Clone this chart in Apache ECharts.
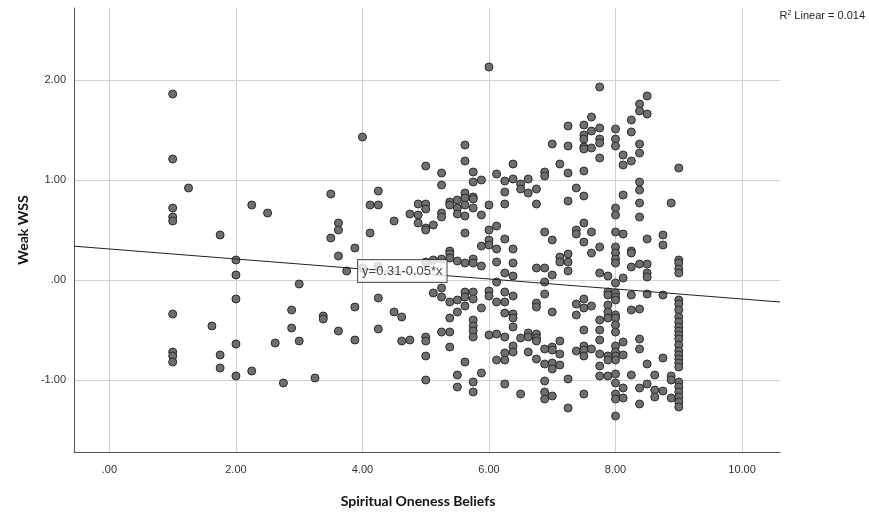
<!doctype html>
<html lang="en">
<head>
    <meta charset="UTF-8">
    <title>Weak WSS vs Spiritual Oneness Beliefs</title>
    <script src="https://cdn.jsdelivr.net/npm/echarts@6/dist/echarts.min.js"></script>
    <style>
        html, body { margin: 0; padding: 0; background: #fff; }
        #scatter_echart { width: 869px; height: 519px; }
    </style>
</head>
<body>

<div id="scatter_echart"></div>

<script type="text/javascript">
/* 데이터 */
const xTicks = [0, 2, 4, 6, 8, 10];
const yTicks = [-1, 0, 1, 2];

// Spiritual Oneness Beliefs (x)
const oneness = [
    1, 1, 1.25, 1, 1, 1, 2.25, 2.5, 1.75, 2, 2, 2, 1, 1.62, 2, 1, 1, 1, 1.75, 1.75, 2, 2.25, 2.75, 2.88, 2.88, 2.62, 3, 3,
    3.5, 3.62, 3.62, 3.5, 3.62, 3.38, 3.38, 3.62, 3.25,
    4, 5, 5.62, 5.62, 5.25, 5.25, 4.25, 4.12, 4.25, 3.88, 4.12, 4.5, 4.75, 4.88, 5, 5, 4.88, 4.88, 5, 5, 5.12, 5.25, 5.25, 5.38, 5.38, 5.5, 5.5, 5.5, 5.62, 5.62, 5.62, 5.62, 5.62, 5.38,
    3.75, 4, 4.25, 5, 5.12, 5.25, 5.38, 5.38, 5.5, 5.62, 5.25, 5.12, 5.25, 5.38, 5.5, 5.62, 5.62, 5.62, 5.5, 5.38, 4.25, 3.88, 4.5, 4.62, 3.88, 4.25, 4.62, 4.75, 5, 5, 5.25, 5.38, 5.38, 5, 5.62, 5.5, 5, 5.5,
    6, 7.75, 7.62, 7.5, 7.75, 7.62, 7.5, 7.5, 7.75, 7.75, 7.5, 7.5, 7.62, 7.75, 7.25, 7.25, 7, 7.12, 7.25, 7.5, 7.38, 7.5, 7.25, 6.88, 6.88, 6.62, 6.75, 6.62, 6.75, 6.5, 6.5, 6.38, 6.38, 6.25, 6.25, 6.25, 6.12, 6.12, 6, 6, 6, 6, 5.88, 5.88, 5.75, 5.75, 5.88, 5.75, 5.75, 5.75, 6.25, 6.38, 6.12, 6.88, 7, 7.38, 7.38, 7.5, 7.5, 7.62,
    5.75, 5.75, 5.88, 6.12, 6.38, 6.75, 6.88, 7.12, 7.12, 7.25, 7.25, 7.25, 7, 7.62, 7.75, 6.25, 6.38, 6.12, 6.88, 6.88, 5.75, 5.75, 6, 6, 6.25, 6.12, 6.25, 6.38, 6.25, 6.38, 6.38, 5.88, 6.75, 6.75, 7, 7.38, 7.38, 7.5, 7.5, 7.62, 7.75,
    5.75, 5.75, 5.75, 5.75, 6, 6.12, 6.25, 6.38, 6.5, 6.62, 6.62, 6.75, 6.75, 6.75, 6.38, 6.38, 6.25, 6.12, 6.25, 6.62, 6.88, 7, 7, 7.12, 7.12, 6.75, 6.88, 7, 7, 7.12, 7.5, 7.38, 7.5, 7.5, 7.5, 7.62, 7.75, 7.75, 7.75, 5.88, 5.75, 5.75, 6.25, 6.5, 6.88, 6.88, 6.88, 7, 7.25, 7.25, 7.5,
    8.5, 8.38, 8.38, 8.5, 8.25, 8.25, 8, 8, 8, 8.38, 8.38, 8.12, 8.25, 8.12, 9, 8.38, 8.38, 8.12, 8.38, 8.88, 8, 8, 8.38, 8, 8.12, 8.5, 8.75, 8.75, 8, 8.25, 7.75,
    8, 8, 8, 8.25, 8.25, 8.38, 8.5, 8.5, 8.5, 8.12, 7.88, 8, 9, 9, 9, 9, 7.88, 7.88, 8, 8, 8, 8.25, 8.5, 8.75, 8.25, 8.38, 7.88, 7.88, 7.88, 8, 8, 8, 8, 7.75, 7.75, 8.12, 8.38, 8.38, 8, 8, 8, 8, 7.88, 7.88, 8.12, 8.75, 8.5,
    9, 9, 9, 9, 9, 9, 9, 9, 9, 9, 9, 9, 9, 9, 9, 7.88, 8, 8.25, 8.62, 8.88, 8.88, 9, 9, 9, 9, 9, 9, 8, 8.12, 8, 8.12, 8, 8.38, 8.5, 8.62, 8.75, 8.62, 8.88, 8.38, 8
];

// Weak WSS (y)
const weakWss = [
    1.86, 1.21, 0.92, 0.72, 0.63, 0.59, 0.75, 0.67, 0.45, 0.20, 0.05, -0.19, -0.34, -0.46, -0.64, -0.72, -0.76, -0.82, -0.75, -0.88, -0.96, -0.91, -1.03, -0.30, -0.48, -0.63, -0.04, -0.61,
    0.86, 0.57, 0.50, 0.42, 0.24, -0.36, -0.39, -0.51, -0.98,
    1.43, 1.14, 1.35, 1.19, 1.07, 0.95, 0.89, 0.75, 0.75, 0.32, 0.47, 0.59, 0.66, 0.76, 0.76, 0.71, 0.65, 0.57, 0.52, 0.50, 0.55, 0.67, 0.63, 0.78, 0.75, 0.80, 0.72, 0.66, 0.87, 0.82, 0.75, 0.64, 0.47, 0.29,
    0.09, 0.12, 0.14, 0.18, 0.20, 0.21, 0.26, 0.22, 0.19, 0.17, -0.08, -0.13, -0.17, -0.22, -0.20, -0.12, -0.17, -0.26, -0.32, -0.38, -0.18, -0.27, -0.32, -0.37, -0.60, -0.49, -0.61, -0.60, -0.57, -0.61, -0.52, -0.52, -0.67, -0.76, -0.82, -0.95, -1.00, -1.07,
    2.13, 1.93, 1.63, 1.55, 1.52, 1.49, 1.45, 1.41, 1.41, 1.37, 1.33, 1.31, 1.32, 1.22, 1.54, 1.34, 1.36, 1.16, 1.07, 1.09, 0.92, 0.84, 0.79, 1.08, 1.04, 1.01, 0.91, 0.87, 0.76, 0.96, 0.91, 1.16, 1.01, 0.99, 0.88, 0.76, 1.06, 0.54, 0.75, 0.50, 0.40, 0.35, 0.34, 0.65, 1.08, 0.98, 1.00, 0.83, 0.81, 0.72, 0.41, 0.31, 0.31, 0.48, 0.40, 0.50, 0.46, 0.38, 0.57, 0.48,
    0.21, 0.17, 0.14, 0.18, 0.17, 0.12, 0.12, 0.23, 0.18, 0.26, 0.18, 0.09, 0.05, 0.27, 0.07, 0.07, 0.04, -0.02, -0.02, -0.14, -0.12, -0.19, -0.11, -0.16, -0.12, -0.22, -0.22, -0.16, -0.33, -0.34, -0.38, -0.28, -0.23, -0.27, -0.32, -0.24, -0.35, -0.19, -0.28, -0.26, -0.40,
    -0.40, -0.46, -0.51, -0.57, -0.55, -0.54, -0.57, -0.47, -0.58, -0.53, -0.57, -0.54, -0.58, -0.61, -0.66, -0.72, -0.73, -0.80, -0.80, -0.72, -0.69, -0.67, -0.70, -0.61, -0.74, -0.79, -0.84, -0.83, -0.89, -0.85, -0.50, -0.71, -0.66, -0.70, -0.76, -0.69, -0.74, -0.86, -0.96, -0.93, -1.02, -1.12, -1.04, -1.14, -1.01, -1.12, -1.19, -1.16, -0.99, -1.28, -1.14,
    1.84, 1.76, 1.69, 1.66, 1.60, 1.48, 1.51, 1.41, 1.34, 1.36, 1.27, 1.25, 1.19, 1.15, 1.12, 0.98, 0.90, 0.85, 0.77, 0.77, 0.72, 0.65, 0.63, 0.48, 0.46, 0.41, 0.45, 0.35, 0.33, 0.29, 0.33,
    0.27, 0.21, 0.17, 0.27, 0.13, 0.16, 0.16, 0.07, 0.03, 0.02, 0.04, -0.03, 0.20, 0.17, 0.11, 0.07, -0.12, -0.15, -0.13, -0.17, -0.20, -0.15, -0.14, -0.15, -0.30, -0.29, -0.25, -0.32, -0.38, -0.35, -0.38, -0.45, -0.52, -0.50, -0.60, -0.62, -0.59, -0.69, -0.66, -0.72, -0.76, -0.80, -0.76, -0.80, -0.75, -0.78, -0.84,
    -0.20, -0.24, -0.30, -0.37, -0.42, -0.47, -0.51, -0.55, -0.59, -0.65, -0.71, -0.75, -0.79, -0.83, -0.87, -0.96, -0.94, -0.95, -0.95, -0.96, -1.00, -1.02, -1.07, -1.12, -1.17, -1.22, -1.27, -1.03, -1.08, -1.14, -1.18, -1.19, -1.08, -1.04, -1.10, -1.11, -1.17, -1.18, -1.24, -1.36
];

// 회귀선 y = 0.31 - 0.05x
const fitIntercept = 0.31;
const fitSlope = -0.05;
const fitText = 'y=0.31-0.05*x';
const r2Text = 'Linear = 0.014';

/* 축 범위 / 스타일 */
const xMin = -0.56, xMax = 10.6;
const yMin = -1.72, yMax = 2.72;
const fitLabelAt = [4.63, 0.09];

let points = oneness.map(function (x, i) { return [x, weakWss[i]]; });
let fitLine = [xMin, xMax].map(function (x) { return [x, fitIntercept + fitSlope * x]; });

let scatter_echart = echarts.init(document.getElementById('scatter_echart'), null, { renderer: 'canvas' });

let option = {
    animation: false,
    backgroundColor: '#ffffff',
    grid: { left: 74, right: 89, top: 8, bottom: 67 },
    graphic: [{
        type: 'text',
        right: 4,
        top: 10,
        style: {
            text: 'R{sup|2} ' + r2Text,
            fill: '#222',
            font: '11px "Liberation Sans", Arial, sans-serif',
            rich: {
                sup: { fontSize: 7, verticalAlign: 'top', padding: [0, 0, 5, 0], fill: '#222' }
            }
        }
    }],
    xAxis: {
        type: 'value',
        min: xMin,
        max: xMax,
        name: 'Spiritual Oneness Beliefs',
        nameLocation: 'middle',
        nameGap: 42,
        nameTextStyle: { fontFamily: 'Lato', fontWeight: 'bold', fontSize: 14, color: '#111', padding: [0, 18, 0, 0] },
        axisLine: { show: true, onZero: false, lineStyle: { color: '#555', width: 1 } },
        axisTick: { show: false, customValues: xTicks },
        axisLabel: {
            customValues: xTicks,
            margin: 12,
            color: '#333',
            fontSize: 11,
            fontFamily: 'Liberation Sans',
            formatter: function (v) { return v === 0 ? '.00' : v.toFixed(2); }
        },
        splitLine: { show: true, lineStyle: { color: '#d0d0d0', width: 1 } }
    },
    yAxis: {
        type: 'value',
        min: yMin,
        max: yMax,
        name: 'Weak WSS',
        nameLocation: 'middle',
        nameGap: 44,
        nameTextStyle: { fontFamily: 'Lato', fontWeight: 'bold', fontSize: 14, color: '#111' },
        axisLine: { show: true, onZero: false, lineStyle: { color: '#555', width: 1 } },
        axisTick: { show: false, customValues: yTicks },
        axisLabel: {
            customValues: yTicks,
            margin: 8,
            color: '#333',
            fontSize: 11,
            fontFamily: 'Liberation Sans',
            formatter: function (v) { return v === 0 ? '.00' : v.toFixed(2); }
        },
        splitLine: { show: true, lineStyle: { color: '#d0d0d0', width: 1 } }
    },
    series: [
        {
            name: 'Weak WSS',
            type: 'scatter',
            data: points,
            symbolSize: 8,
            itemStyle: { color: '#6f6f6f', borderColor: '#2b2b2b', borderWidth: 1, opacity: 1 },
            z: 2
        }, {
            name: 'Fit',
            type: 'line',
            data: fitLine,
            showSymbol: false,
            symbol: 'none',
            lineStyle: { color: '#222', width: 1 },
            z: 3
        }, {
            name: 'FitLabel',
            type: 'scatter',
            data: [fitLabelAt],
            symbolSize: 1,
            itemStyle: { color: 'rgba(0,0,0,0)' },
            label: {
                show: true,
                position: 'inside',
                formatter: fitText,
                backgroundColor: '#ffffff',
                borderColor: '#333',
                borderWidth: 1,
                padding: [5, 4, 4, 4],
                color: '#111',
                fontSize: 13,
                fontFamily: 'Liberation Sans'
            },
            z: 4
        }
    ]
};
scatter_echart.setOption(option);

window.addEventListener('resize', scatter_echart.resize);
</script>
</body>
</html>
